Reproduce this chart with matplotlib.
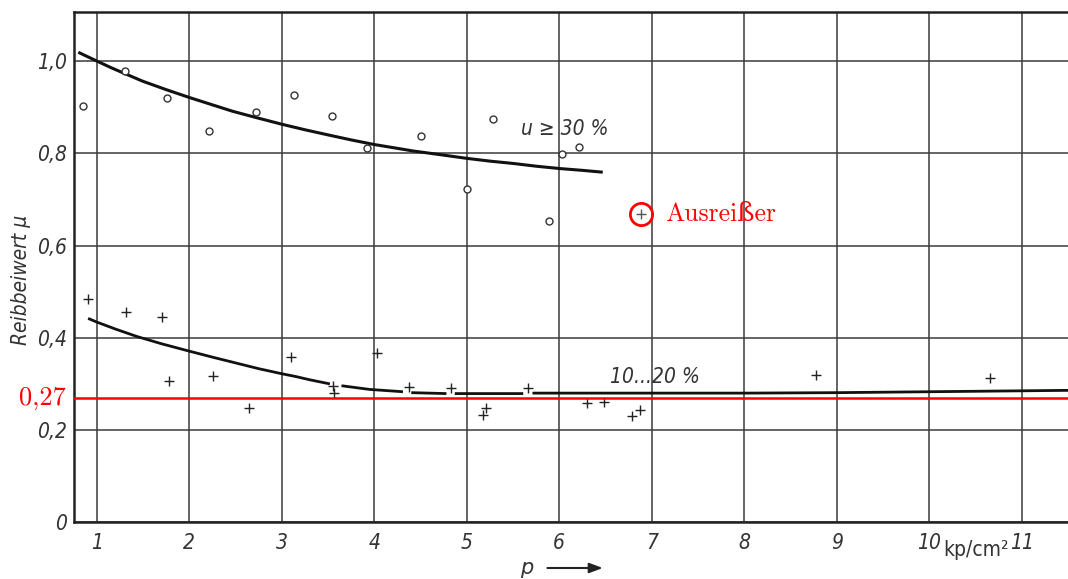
import numpy as np
import matplotlib
matplotlib.use("Agg")
import matplotlib.pyplot as plt
from matplotlib.transforms import blended_transform_factory

# Messpunkte u >= 30 % (Kreise)
p_hoch = [0.85, 1.30, 1.76, 2.21, 2.72, 3.13, 3.54, 3.92, 4.51, 5.00, 5.28, 5.89, 6.03, 6.21]
mu_hoch = [0.902, 0.978, 0.920, 0.848, 0.889, 0.926, 0.881, 0.811, 0.837, 0.722, 0.874, 0.653, 0.798, 0.813]

# Messpunkte u = 10...20 % (Kreuze)
p_tief = [0.90, 1.32, 1.70, 1.78, 2.26, 2.65, 3.10, 3.55, 3.56, 4.03, 4.37, 4.83,
          5.21, 5.18, 5.66, 6.30, 6.48, 6.79, 6.87, 8.78, 10.66]
mu_tief = [0.484, 0.456, 0.445, 0.306, 0.317, 0.247, 0.358, 0.295, 0.280, 0.367, 0.293, 0.291,
           0.247, 0.232, 0.291, 0.258, 0.260, 0.230, 0.243, 0.319, 0.312]

# Ausgleichskurven
kurve_hoch_p = [0.80, 1.0, 1.15, 1.30, 1.50, 1.75, 2.0, 2.25, 2.47, 2.75, 3.0, 3.25, 3.52, 3.75,
                4.0, 4.42, 4.75, 5.0, 5.25, 5.5, 5.75, 6.0, 6.25, 6.47]
kurve_hoch_mu = [1.019, 1.000, 0.986, 0.973, 0.956, 0.938, 0.921, 0.905, 0.891, 0.876, 0.863, 0.851,
                 0.839, 0.829, 0.819, 0.805, 0.796, 0.789, 0.783, 0.778, 0.772, 0.767, 0.763, 0.759]

# Lücken in der Linie dort, wo Messpunkte darauf liegen (nan)
kurve_tief_p = [0.906, 1.0, 1.2, 1.43, 1.7, 2.0, 2.25, 2.51, 2.75, 3.0, 3.15, 3.30, 3.52, np.nan,
                3.645, 3.95, 4.31, np.nan, 4.40, 4.78, np.nan, 4.87, 5.61, np.nan,
                5.71, 6.0, 7.0, 8.0, 9.0, 10.0, 11.0, 11.5]
kurve_tief_mu = [0.442, 0.434, 0.419, 0.403, 0.387, 0.371, 0.358, 0.345, 0.333, 0.322, 0.316, 0.309, 0.300, np.nan,
                 0.296, 0.288, 0.283, np.nan, 0.281, 0.279, np.nan, 0.279, 0.279, np.nan,
                 0.280, 0.280, 0.280, 0.280, 0.281, 0.283, 0.285, 0.286]

ausreisser_p, ausreisser_mu = 6.88, 0.668
grenzwert = 0.27

x_ticks = list(range(1, 12))
x_labels = [str(i) for i in x_ticks]
y_ticks = [0, 0.2, 0.4, 0.6, 0.8, 1.0]
y_labels = ["0", "0,2", "0,4", "0,6", "0,8", "1,0"]

ink = "#222222"
tick_font = dict(family="DejaVu Sans", style="italic", stretch="condensed", size=15, color="#333333")

fig = plt.figure(figsize=(10.68, 5.79), dpi=100)
ax = fig.add_axes([0.069, 0.098, 0.931, 0.881])
ax.set_xlim(0.75, 11.5)
ax.set_ylim(0, 1.106)

# Gitter
ax.set_xticks(x_ticks)
ax.set_yticks(y_ticks)
ax.grid(True, color="#3a3a3a", linewidth=1.1)
ax.set_axisbelow(True)
ax.tick_params(length=0, pad=8)
ax.set_xticklabels(x_labels, **tick_font)
ax.set_yticklabels(y_labels, **tick_font)
ax.tick_params(axis="y", pad=5)

for s in ["left", "bottom", "top"]:
    ax.spines[s].set_linewidth(1.8)
    ax.spines[s].set_color(ink)
ax.spines["right"].set_visible(False)

# Kurven
ax.plot(kurve_hoch_p, kurve_hoch_mu, color="#111111", lw=2.2, solid_capstyle="butt", solid_joinstyle="round")
ax.plot(kurve_tief_p, kurve_tief_mu, color="#111111", lw=2.0, solid_capstyle="butt", solid_joinstyle="round")

# Messpunkte
ax.plot(p_hoch, mu_hoch, "o", ms=5, mfc="white", mec="#333333", mew=1.0)
ax.plot(p_tief, mu_tief, "+", ms=7.5, mec="#222222", mew=1.0)

# Beschriftungen der Kurven
ax.text(5.59, 0.852, "u ≥ 30 %", fontsize=15, style="italic", color="#333333",
        family="DejaVu Sans", stretch="condensed", va="center")
ax.text(6.55, 0.315, "10...20 %", fontsize=15, style="italic", color="#333333",
        family="DejaVu Sans", stretch="condensed", va="center")

# Ausreißer
ax.plot(ausreisser_p, ausreisser_mu, "+", ms=7.5, mec="#555555", mew=1.0)
ax.plot(ausreisser_p, ausreisser_mu, "o", ms=16, mfc="none", mec="red", mew=2)
ax.text(7.14, ausreisser_mu, "Ausreißer", color="red", fontsize=18.5,
        family=["cmr10", "DejaVu Serif"], va="center", ha="left")

# Grenzwert 0,27
ax.axhline(grenzwert, color="red", lw=1.8, zorder=5)
ax.annotate("0,27", xy=(-0.008, grenzwert), xycoords=("axes fraction", "data"),
            ha="right", va="center", color="red", fontsize=19,
            family=["cmr10", "DejaVu Serif"], annotation_clip=False)

# Achsenbeschriftungen
ax.set_ylabel("Reibbeiwert μ", fontsize=15, style="italic", color="#333333",
              family="DejaVu Sans", stretch="condensed")
ax.yaxis.set_label_coords(-0.043, 0.475)
trans = blended_transform_factory(ax.transData, ax.transAxes)
ax.text(10.5, -0.035, "kp/cm²", transform=trans, fontsize=15, color="#333333",
        family="DejaVu Sans", stretch="condensed", ha="center", va="top")
fig.text(0.493, 0.019, "p", fontsize=15, style="italic", color="#333333",
         family="DejaVu Sans", ha="center", va="center")
fig.add_artist(matplotlib.patches.FancyArrowPatch((0.510, 0.019), (0.567, 0.019),
                                                  transform=fig.transFigure,
                                                  arrowstyle="-|>,head_length=8,head_width=3",
                                                  color="#222222", lw=1.5))

fig.savefig("out.png", dpi=100)
